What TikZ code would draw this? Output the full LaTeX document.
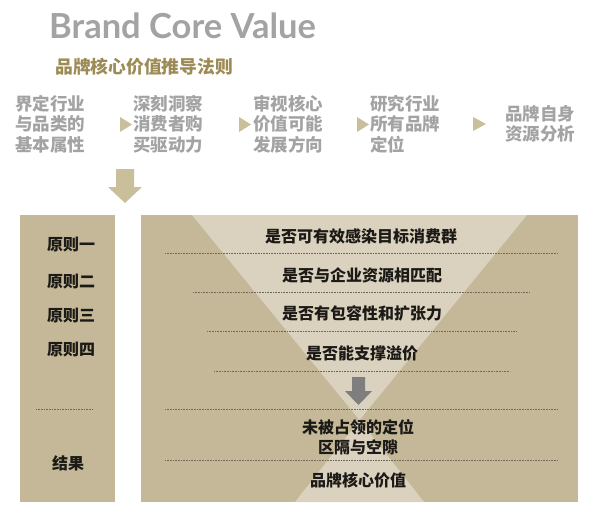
\documentclass[tikz,border=0pt]{standalone}
\usepackage{fontspec}
\setmainfont{Noto Sans CJK SC}
\newfontfamily\titlefont{Lato}
\definecolor{panel}{HTML}{C4B898}
\definecolor{sand}{HTML}{DAD2BE}
\definecolor{stone}{HTML}{A3A3A3}
\definecolor{olive}{HTML}{9C8B55}
\definecolor{pale}{HTML}{C9C09B}
\definecolor{ink}{HTML}{1C1A16}
\definecolor{rule}{HTML}{6E685A}
\definecolor{slate}{HTML}{7E7E7E}
\begin{document}
\begin{tikzpicture}[x=1pt, y=-1pt,
  steptxt/.style={inner sep=0pt, anchor=west, align=left, text=stone,
    font=\fontsize{17.5}{20.5}\selectfont\bfseries},
  ruletxt/.style={inner sep=0pt, text=ink, align=center,
    font=\fontsize{16}{20}\selectfont\bfseries},
  sepline/.style={rule, dash pattern=on 0.8pt off 0.8pt, line width=0.8pt}]
  \useasboundingbox (0,0) rectangle (600,514);
  % heading
  \node[inner sep=0pt, anchor=base west, text=stone,
    font=\fontsize{34.5}{34}\selectfont\titlefont\bfseries] (title) at (49,38) {Brand Core Value};
  \node[inner sep=0pt, anchor=west, text=olive,
    font=\fontsize{17.8}{20}\selectfont\bfseries] (sub) at (55,67) {品牌核心价值推导法则};
  % steps
  \node[steptxt] (s1) at (15,124) {界定行业\\与品类的\\基本属性};
  \node[steptxt] (s2) at (133,124) {深刻洞察\\消费者购\\买驱动力};
  \node[steptxt] (s3) at (253,124) {审视核心\\价值可能\\发展方向};
  \node[steptxt] (s4) at (370,124) {研究行业\\所有品牌\\定位};
  \node[steptxt] (s5) at (505,124) {品牌自身\\资源分析};
  \fill[pale] (120,117) -- (132,124.5) -- (120,132) -- cycle;
  \fill[pale] (239,117) -- (251,124.5) -- (239,132) -- cycle;
  \fill[pale] (357,117) -- (369,124.5) -- (357,132) -- cycle;
  \fill[pale] (473,117) -- (486,124) -- (473,131) -- cycle;
  \fill[pale] (116,169) -- (134,169) -- (134,187) -- (142,187)
    -- (125,203) -- (108,187) -- (116,187) -- cycle;
  % panels
  \fill[panel] (20,215) rectangle (115,502);
  \fill[panel] (141,215) rectangle (578,502);
  \coordinate (waist) at (359.5,420);
  \fill[sand] (192,215) -- (527,215) -- (waist) -- cycle;
  \fill[sand] (waist) -- (424,502) -- (295,502) -- cycle;
  \draw[sepline] (165,253) -- (558,253);
  \draw[sepline] (193,292) -- (530,292);
  \draw[sepline] (207,331) -- (517,331);
  \draw[sepline] (214,371) -- (510,371);
  \draw[sepline] (165,409) -- (558,409);
  \draw[sepline] (165,460) -- (558,460);
  \draw[sepline] (36,409) -- (93,409);
  \fill[slate] (352,377) -- (365,377) -- (365,391) -- (372,391)
    -- (358.5,405) -- (345,391) -- (352,391) -- cycle;
  % left column
  \node[ruletxt] (p1) at (71,245) {原则一};
  \node[ruletxt] (p2) at (71,282) {原则二};
  \node[ruletxt] (p3) at (71,316) {原则三};
  \node[ruletxt] (p4) at (71,350) {原则四};
  \node[ruletxt] (res) at (68,463) {结果};
  % right column
  \node[ruletxt] (q1) at (361,236) {是否可有效感染目标消费群};
  \node[ruletxt] (q2) at (362,275) {是否与企业资源相匹配};
  \node[ruletxt] (q3) at (362,313) {是否有包容性和扩张力};
  \node[ruletxt] (q4) at (362,353) {是否能支撑溢价};
  \node[ruletxt] (gap) at (358,437) {未被占领的定位\\区隔与空隙};
  \node[ruletxt] (core) at (358,480) {品牌核心价值};
\end{tikzpicture}
\end{document}
